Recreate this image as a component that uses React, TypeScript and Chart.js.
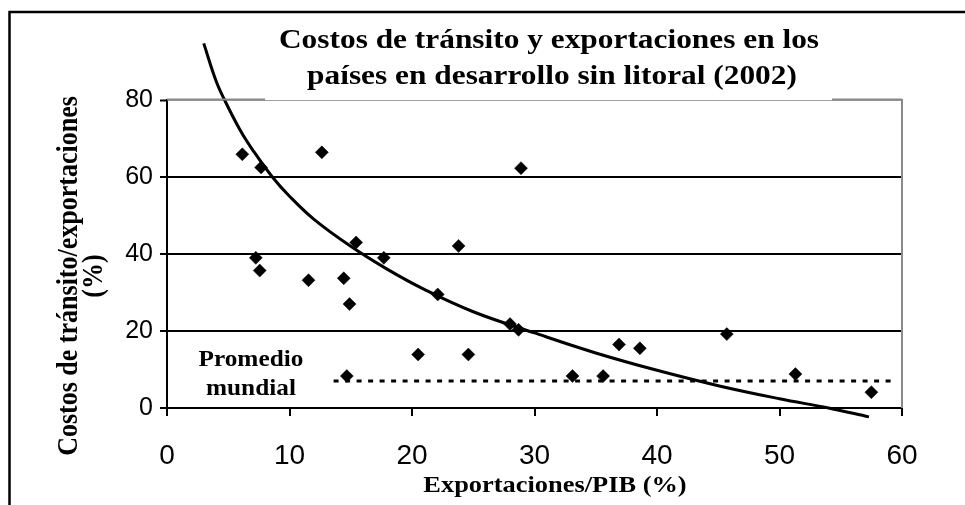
import React, { useEffect, useRef } from 'react';
import { Chart, registerables } from 'chart.js';

Chart.register(...registerables);

// Scatter: Exportaciones/PIB (%) vs Costos de tránsito/exportaciones (%)
const exportsPct = [6.15, 7.68, 12.64, 7.25, 7.57, 11.55, 14.43, 14.9, 14.68, 15.44, 17.7, 20.5, 22.1, 23.8, 24.6, 28.0, 28.7, 28.9, 33.1, 35.6, 36.9, 38.6, 45.7, 51.3, 57.5];
const transitPct = [65.9, 62.5, 66.4, 39.0, 35.7, 33.2, 33.7, 27.0, 8.3, 43.0, 39.0, 13.9, 29.5, 42.1, 13.9, 21.8, 20.3, 62.3, 8.3, 8.3, 16.5, 15.5, 19.2, 8.8, 4.1];

// Trend curve
const trendX = [3.0, 4.0, 4.7, 6.0, 7.0, 8.6, 10, 12, 15, 18, 21, 25, 30, 35, 40, 45, 50, 54, 57.3];
const trendY = [94.7, 85, 80, 72, 67, 60, 55, 49, 42, 36, 30.8, 25, 19.5, 14.3, 9.8, 5.8, 2.4, 0, -2.3];

// World average (dotted)
const worldAvgX = [13.6, 59.3];
const worldAvgY = [7, 7];

const titleLines = ['Costos de tránsito y exportaciones en los', 'países en desarrollo sin litoral (2002)'];
const yTitleLines = ['Costos de tránsito/exportaciones', '(%)'];
const xTitle = 'Exportaciones/PIB (%)';
const avgLabelLines = ['Promedio', 'mundial'];

const SERIF = '"Liberation Serif", "Times New Roman", serif';
const SANS = '"Liberation Sans", Arial, sans-serif';

function stretchedText(
  ctx: CanvasRenderingContext2D,
  text: string,
  x: number,
  y: number,
  font: string,
  stretch: number,
  rotate = 0
) {
  ctx.save();
  ctx.translate(x, y);
  ctx.scale(stretch, 1);
  if (rotate) ctx.rotate(rotate);
  ctx.font = font;
  ctx.fillStyle = '#000';
  ctx.textAlign = 'center';
  ctx.textBaseline = 'alphabetic';
  ctx.fillText(text, 0, 0);
  ctx.restore();
}

const decorPlugin = {
  id: 'decor',
  afterDraw(chart: any) {
    const ctx: CanvasRenderingContext2D = chart.ctx;
    const { left, right, top, bottom } = chart.chartArea;
    const xs = chart.scales.x;
    const ys = chart.scales.y;
    ctx.save();
    // outer frame (top and left)
    ctx.strokeStyle = '#000';
    ctx.lineWidth = 2.5;
    ctx.beginPath();
    ctx.moveTo(9.5, 505);
    ctx.lineTo(9.5, 12);
    ctx.lineTo(965, 12);
    ctx.stroke();
    // right border of plot area
    ctx.strokeStyle = '#8a8a8a';
    ctx.lineWidth = 2;
    ctx.beginPath();
    ctx.moveTo(right, top - 1);
    ctx.lineTo(right, bottom);
    ctx.stroke();
    // thicker top border pieces outside the title
    ctx.beginPath();
    ctx.moveTo(left, top - 0.5);
    ctx.lineTo(265, top - 0.5);
    ctx.moveTo(832, top - 0.5);
    ctx.lineTo(right, top - 0.5);
    ctx.stroke();
    ctx.restore();

    // chart title
    const tFont = `bold 28px ${SERIF}`;
    stretchedText(ctx, titleLines[0], 549, 48, tFont, 1.12);
    stretchedText(ctx, titleLines[1], 552, 84, tFont, 1.12);

    // y axis title
    const yFont = `bold 26px ${SERIF}`;
    const yMid = 276;
    stretchedText(ctx, yTitleLines[0], 77, yMid, yFont, 1.15, -Math.PI / 2);
    stretchedText(ctx, yTitleLines[1], 102, yMid, yFont, 1.15, -Math.PI / 2);

    // x axis title
    stretchedText(ctx, xTitle, 555, 492, `bold 24px ${SERIF}`, 1.1);

    // world average label
    const lx = xs.getPixelForValue(6.85);
    stretchedText(ctx, avgLabelLines[0], lx, ys.getPixelForValue(10.8), `bold 23px ${SERIF}`, 1.1);
    stretchedText(ctx, avgLabelLines[1], lx, ys.getPixelForValue(3.4), `bold 23px ${SERIF}`, 1.1);
  },
};

export default function App() {
  const canvasRef = useRef<HTMLCanvasElement | null>(null);

  useEffect(() => {
    document.body.style.margin = '0';
    const canvas = canvasRef.current;
    if (!canvas) return;
    const chart = new Chart(canvas, {
      type: 'scatter',
      data: {
        datasets: [
          {
            label: 'Países',
            data: exportsPct.map((x, i) => ({ x, y: transitPct[i] })),
            pointStyle: 'rectRot',
            pointRadius: 6.5,
            pointBackgroundColor: '#000',
            pointBorderColor: '#000',
            pointBorderWidth: 0.5,
            showLine: false,
          },
          {
            label: 'Tendencia',
            data: trendX.map((x, i) => ({ x, y: trendY[i] })),
            showLine: true,
            borderColor: '#000',
            borderWidth: 3,
            pointRadius: 0,
            tension: 0.4,
            clip: false,
          } as any,
          {
            label: 'Promedio mundial',
            data: worldAvgX.map((x, i) => ({ x, y: worldAvgY[i] })),
            showLine: true,
            borderColor: '#000',
            borderWidth: 3,
            borderDash: [5, 6.5],
            pointRadius: 0,
          },
        ],
      },
      options: {
        animation: false,
        responsive: false,
        layout: { padding: { top: 100, right: 63, left: 0, bottom: 0 } },
        plugins: {
          legend: { display: false },
          title: { display: false },
          tooltip: { enabled: false },
        },
        scales: {
          x: {
            type: 'linear',
            min: 0,
            max: 60,
            ticks: {
              stepSize: 10,
              color: '#000',
              padding: 23,
              font: { family: SANS, size: 28 },
            },
            grid: {
              drawOnChartArea: false,
              drawTicks: true,
              tickLength: 8,
              tickColor: '#000',
              tickWidth: 2,
              lineWidth: 2,
            },
            border: { display: true, color: '#000', width: 2 },
            afterFit: (scale: any) => {
              scale.height = 97;
            },
          },
          y: {
            type: 'linear',
            min: 0,
            max: 80,
            ticks: {
              stepSize: 20,
              color: '#000',
              padding: 7,
              font: { family: SANS, size: 25 },
            },
            grid: {
              color: (c: any) => (c.tick && c.tick.value === 80 ? '#a0a0a0' : '#000'),
              lineWidth: (c: any) => (c.tick && c.tick.value === 80 ? 1 : 2),
              tickColor: '#000',
              tickLength: 7,
              tickWidth: 2,
            },
            border: { display: true, color: '#000', width: 2 },
            afterFit: (scale: any) => {
              scale.width = 167;
            },
          },
        },
      },
      plugins: [decorPlugin],
    });
    return () => chart.destroy();
  }, []);

  return (
    <div style={{ position: 'absolute', left: 0, top: 0, width: 965, height: 505, background: '#fff' }}>
      <canvas ref={canvasRef} width={965} height={505} style={{ display: 'block' }} />
    </div>
  );
}
